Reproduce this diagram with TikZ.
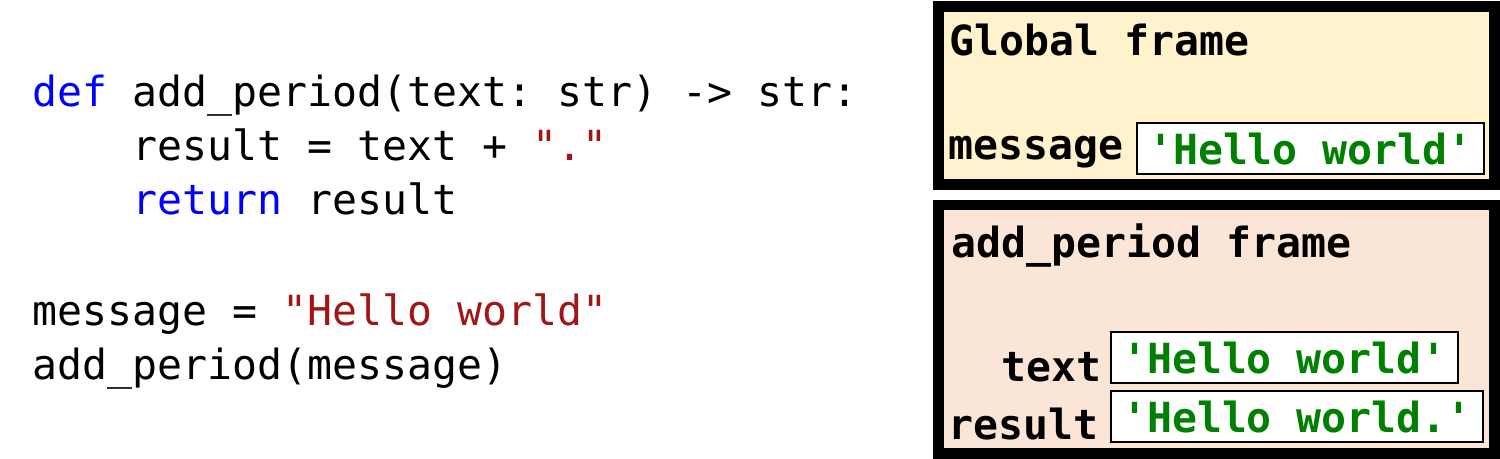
\documentclass[tikz,border=0pt]{standalone}
\usepackage[]{fontspec}
\setmonofont{DejaVu Sans Mono}
\usepackage[]{xcolor}
\usetikzlibrary{positioning}
\colorlet{kwblue}{blue}
\definecolor{strred}{HTML}{A31515}
\definecolor{valgreen}{HTML}{008000}
\definecolor{globalfill}{HTML}{FFF2CC}
\definecolor{callfill}{HTML}{FBE5D6}
\newcommand{\codesize}{\ttfamily\fontsize{11.8}{14}\selectfont}
\tikzset{
  codetxt/.style={anchor=base west,inner sep=0,font=\codesize},
  framelbl/.style={codetxt,font=\codesize\bfseries},
  stackframe/.style={draw=black,line width=3.1pt},
  valbox/.style={draw=black,line width=0.6pt,fill=white,anchor=north west,
    minimum height=0.51cm,inner xsep=0.11cm,inner ysep=0,
    font=\codesize\bfseries,text=valgreen}
}
\newcommand{\varbox}[4][]{\node[valbox,#1] at (#2) (#3) {#4}}

\begin{document}
\begin{tikzpicture}[x=0.01cm,y=-0.01cm]
  \useasboundingbox (0,0) rectangle (1500,459);
  % source code
  \node[codetxt] (l1) at (32,107) {{\color{kwblue}def} add\_period(text: str) -> str:};
  \node[codetxt] (l2) at (132,161) {result = text + {\color{strred}"."}};
  \node[codetxt] (l3) at (132,215) {{\color{kwblue}return} result};
  \node[codetxt] (l5) at (32,326) {message = {\color{strred}"Hello world"}};
  \node[codetxt] (l6) at (32,380) {add\_period(message)};
  % global frame
  \draw[stackframe,fill=globalfill] (938.5,6.5) rectangle (1494.5,184.5);
  \node[framelbl] (glob) at (949,56) {Global frame};
  \node[framelbl] (msg) at (948,160) {message};
  \varbox{1136,122}{msg-val}{'Hello world'};
  % add_period frame
  \draw[stackframe,fill=callfill] (938.5,205) rectangle (1494.5,453.5);
  \node[framelbl] (call) at (951,258) {add\_period frame};
  \node[framelbl,anchor=base east] (text) at (1102,382) {text};
  \node[framelbl] (result) at (948,440) {result};
  \varbox{1110,331}{text-val}{'Hello world'};
  \varbox{1110,390}{result-val}{'Hello world.'};
\end{tikzpicture}
\end{document}
